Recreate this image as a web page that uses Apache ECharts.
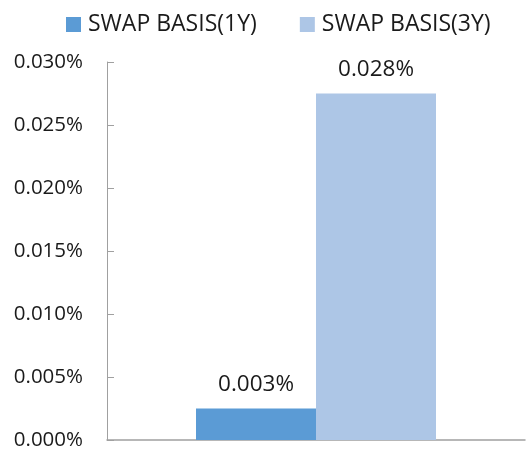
<!DOCTYPE html>
<html>
<head>
<meta charset="utf-8">
<script src="https://cdn.jsdelivr.net/npm/echarts@6/dist/echarts.min.js"></script>
<style>
  html, body { margin: 0; padding: 0; background: #fff; }
  #chart { width: 527px; height: 452px; }
</style>
</head>
<body>
<div id="chart"></div>
<script>
// Swap basis values, in percent
const categories = [''];
const seriesNames = ['SWAP BASIS(1Y)', 'SWAP BASIS(3Y)'];
const basis1Y = [0.0025];
const basis3Y = [0.0275];
const yTicks = [0, 0.005, 0.010, 0.015, 0.020, 0.025, 0.030];

const FONT = '"Open Sans"';
const TEXT = '#1a1a1a';
const AXIS = '#a0a0a0';
const pct = v => (Math.round(v * 1000) / 1000).toFixed(3) + '%';

const valueLabel = {
  show: true, position: 'top', distance: 12,
  fontSize: 22.5, color: TEXT, fontFamily: FONT,
  formatter: p => pct(p.value)
};

const chart = echarts.init(document.getElementById('chart'));
chart.setOption({
  animation: false,
  textStyle: { fontFamily: FONT },
  legend: {
    top: 8,
    left: 61,
    itemWidth: 15,
    itemHeight: 15,
    itemGap: 43,
    icon: 'rect',
    textStyle: { fontSize: 23, color: TEXT, fontFamily: FONT, padding: [0, 0, 0, 2] },
    data: seriesNames
  },
  grid: { left: 107, right: 2, top: 62, bottom: 12, containLabel: false },
  xAxis: {
    type: 'category',
    data: categories,
    axisLine: { lineStyle: { color: AXIS, width: 1.5 } },
    axisTick: { show: false },
    axisLabel: { show: false }
  },
  yAxis: {
    type: 'value',
    min: yTicks[0],
    max: yTicks[yTicks.length - 1],
    interval: 0.005,
    splitLine: { show: false },
    axisLine: { show: true, lineStyle: { color: AXIS, width: 1 } },
    axisTick: { show: true, inside: true, length: 7, lineStyle: { color: AXIS } },
    axisLabel: {
      fontSize: 20.5,
      color: TEXT,
      fontFamily: FONT,
      margin: 24,
      formatter: v => v.toFixed(3) + '%'
    }
  },
  series: [
    {
      name: seriesNames[0],
      type: 'bar',
      data: basis1Y,
      barWidth: 120,
      barGap: '0%',
      itemStyle: { color: '#5b9bd5' },
      label: valueLabel
    },
    {
      name: seriesNames[1],
      type: 'bar',
      data: basis3Y,
      barWidth: 120,
      barGap: '0%',
      itemStyle: { color: '#adc6e6' },
      label: valueLabel
    }
  ]
});
</script>
</body>
</html>
